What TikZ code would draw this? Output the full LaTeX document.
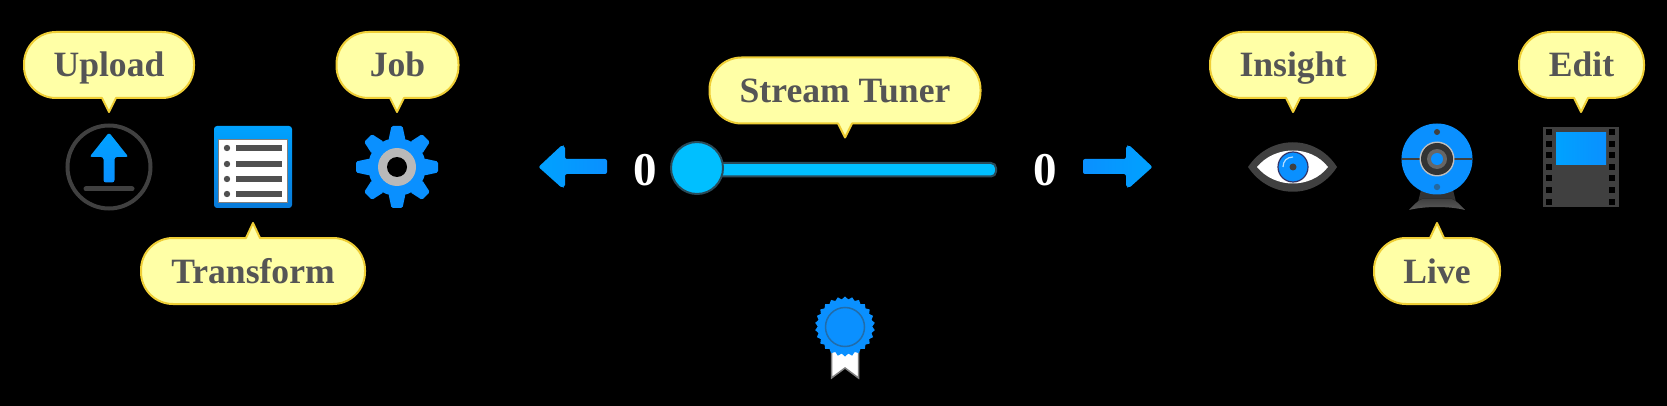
\documentclass[tikz,border=0pt]{standalone}
\usepackage{fontspec}
\setmainfont{Liberation Serif}
\usetikzlibrary{shapes.geometric}
\definecolor{bubfill}{HTML}{FFFFA6}
\definecolor{bubline}{HTML}{EFCE35}
\definecolor{bubtext}{HTML}{555555}
\definecolor{iconblue}{HTML}{0A90FF}
\definecolor{iconblueb}{HTML}{00A2FF}
\definecolor{icondark}{HTML}{404040}
\definecolor{rowdark}{HTML}{505050}
\definecolor{sky}{HTML}{00BFFF}
\definecolor{slideline}{HTML}{2A4A58}
\tikzset{
  bubpath/.style={fill=bubfill,draw=bubline,line width=2pt,line join=round},
  bubtxt/.style={anchor=base,inner sep=0pt,text=bubtext,font=\fontsize{35.6}{36}\selectfont\bfseries},
  zero/.style={anchor=base,inner sep=0pt,text=white,font=\fontsize{47}{47}\selectfont\bfseries},
  dot/.style={circle,inner sep=0pt,minimum size=#1}
}
% name, x1, x2, top, tip x, text : tip pointing down
\newcommand{\bubdown}[6]{%
  \filldraw[bubpath] (#2,{#4+32})
    .. controls (#2,{#4+14.3}) and ({#2+14.3},#4) .. ({#2+32},#4)
    -- ({#3-32},#4)
    .. controls ({#3-14.3},#4) and (#3,{#4+14.3}) .. (#3,{#4+32})
    -- (#3,{#4+34})
    .. controls (#3,{#4+51.7}) and ({#3-14.3},{#4+66}) .. ({#3-32},{#4+66})
    -- ({#5+7},{#4+66}) -- (#5,{#4+80}) -- ({#5-7},{#4+66})
    -- ({#2+32},{#4+66})
    .. controls ({#2+14.3},{#4+66}) and (#2,{#4+51.7}) .. (#2,{#4+34})
    -- cycle;
  \node[bubtxt] (#1) at ({(#2+#3)/2},{#4+45}) {#6};}
% tip pointing up
\newcommand{\bubup}[6]{%
  \filldraw[bubpath] (#2,{#4+32})
    .. controls (#2,{#4+14.3}) and ({#2+14.3},#4) .. ({#2+32},#4)
    -- ({#5-7},#4) -- (#5,{#4-15}) -- ({#5+7},#4)
    -- ({#3-32},#4)
    .. controls ({#3-14.3},#4) and (#3,{#4+14.3}) .. (#3,{#4+32})
    -- (#3,{#4+34})
    .. controls (#3,{#4+51.7}) and ({#3-14.3},{#4+66}) .. ({#3-32},{#4+66})
    -- ({#2+32},{#4+66})
    .. controls ({#2+14.3},{#4+66}) and (#2,{#4+51.7}) .. (#2,{#4+34})
    -- cycle;
  \node[bubtxt] (#1) at ({(#2+#3)/2},{#4+45}) {#6};}
\begin{document}
\begin{tikzpicture}[x=1pt,y=-1pt]
\useasboundingbox (0,0) rectangle (1667,406);
\fill[black] (0,0) rectangle (1667,406);

% Bubbles
\bubdown{upload}{24}{194}{32}{109}{Upload}
\bubdown{job}{336.5}{458.5}{32}{397}{Job}
\bubup{transform}{141}{365}{238}{253}{Transform}
\bubdown{tuner}{709.5}{980.5}{57.5}{845}{Stream Tuner}
\bubdown{insight}{1210}{1376}{32}{1293}{Insight}
\bubup{live}{1374}{1500}{238}{1437}{Live}
\bubdown{edit}{1519}{1644}{32}{1581}{Edit}

% Upload icon
\node[dot=83pt,draw=icondark,line width=4pt] (uploadicon) at (109,167) {};
\fill[top color=iconblueb,bottom color=iconblue,rounded corners=2.5pt]
  (109,132.5) -- (128.5,157) -- (114.5,157) -- (114.5,182.5) -- (103.5,182.5) -- (103.5,157) -- (89.5,157) -- cycle;
\draw[icondark,line width=5pt,line cap=round] (86,189) -- (132,189);

% Transform icon
\fill[top color=iconblueb,bottom color=iconblue!85!black,rounded corners=3pt] (214,126) rectangle (292,208);
\fill[white,draw=gray,line width=1pt] (218,140) rectangle (287,203);
\foreach \yy in {148,164,179,194}{
  \fill[rowdark] (227,\yy) circle (3.2pt);
  \fill[rowdark] (236,{\yy-3}) rectangle (282,{\yy+3});
}

% Gear icon
\begin{scope}[shift={(397,167)}]
  \fill[iconblue] (0,0) circle (29pt);
  \foreach \a in {0,45,...,315}{
    \fill[iconblue,rotate=\a,rounded corners=1.5pt] (-8.5,-27) -- (-5.5,-41) -- (5.5,-41) -- (8.5,-27) -- cycle;
  }
  \fill[lightgray!90!gray] (0,0) circle (19pt);
  \fill[black] (0,0) circle (10pt);
\end{scope}

% Left arrow, right arrow
\fill[left color=iconblueb,right color=iconblue,rounded corners=2pt]
  (538.5,167) -- (562,145) -- (565,146) -- (565,159) -- (607,159) -- (607,174) -- (565,174) -- (565,187) -- (562,188) -- cycle;
\fill[left color=iconblue,right color=iconblueb,rounded corners=2pt]
  (1152.5,167) -- (1129,145) -- (1126,146) -- (1126,159) -- (1083,159) -- (1083,174) -- (1126,174) -- (1126,187) -- (1129,188) -- cycle;

% Counters
\node[zero] (leftzero) at (645,185.5) {0};
\node[zero] (rightzero) at (1045,185.5) {0};

% Slider
\fill[sky,draw=slideline,line width=2pt,rounded corners=5pt] (700,163) rectangle (996,176.5);
\node[dot=52pt,fill=sky,draw=slideline,line width=2pt] (knob) at (697,168) {};

% Eye icon
\fill[icondark] (1248,167) .. controls (1270,134) and (1316,134) .. (1337,167) .. controls (1316,200) and (1270,200) .. cycle;
\fill[white] (1257,167) .. controls (1275,145) and (1311,145) .. (1328,167) .. controls (1311,189) and (1275,189) .. cycle;
\fill[iconblue,draw=icondark!80!blue,line width=1.2pt] (1293,167) circle (15pt);
\draw[white!70!iconblue,line width=1.2pt] (1283,167) .. controls (1283,161) and (1287,157) .. (1293,157);
\fill[icondark] (1293,167) circle (3.5pt);

% Webcam icon
\fill[icondark!80!black] (1421,190) -- (1453,190) -- (1456,202) -- (1418,202) -- cycle;
\fill[top color=icondark,bottom color=gray!70!black] (1409,210) .. controls (1414,205) and (1417,201) .. (1422,199) -- (1452,199) .. controls (1457,201) and (1460,205) .. (1465,210) .. controls (1449,206) and (1425,206) .. cycle;
\fill[iconblue] (1437,159) circle (35.5pt);
\draw[icondark,line width=1.2pt] (1402,159) -- (1472,159);
\fill[icondark] (1437,132) circle (3pt);
\fill[icondark!50!iconblue] (1437,187) circle (3.2pt);
\fill[lightgray,draw=none] (1437,159) circle (17.5pt);
\fill[icondark!80!black] (1437,159) circle (16pt);
\fill[gray!80!black] (1437,159) circle (10pt);
\fill[iconblue] (1437,159) circle (6pt);

% Film icon
\fill[icondark] (1543,127) rectangle (1619,207);
\fill[left color=iconblueb,right color=iconblue] (1556,133) rectangle (1606,165);
\foreach \yy in {132,144,155,167,178,190,202}{
  \fill[black] (1546,{\yy-2.7}) rectangle (1552,{\yy+2.7});
  \fill[black] (1609,{\yy-2.7}) rectangle (1615,{\yy+2.7});
}

% Award icon
\fill[white,draw=gray,line width=1.5pt] (831.5,345) -- (858.5,345) -- (858.5,378) -- (845,368) -- (831.5,378) -- cycle;
\node[star,star points=26,star point ratio=1.1,minimum size=60pt,inner sep=0pt,fill=iconblue] (award) at (845,326.5) {};
\fill[iconblue,draw=iconblue!55!icondark,line width=1.5pt] (845,327) circle (19.5pt);
\end{tikzpicture}
\end{document}
